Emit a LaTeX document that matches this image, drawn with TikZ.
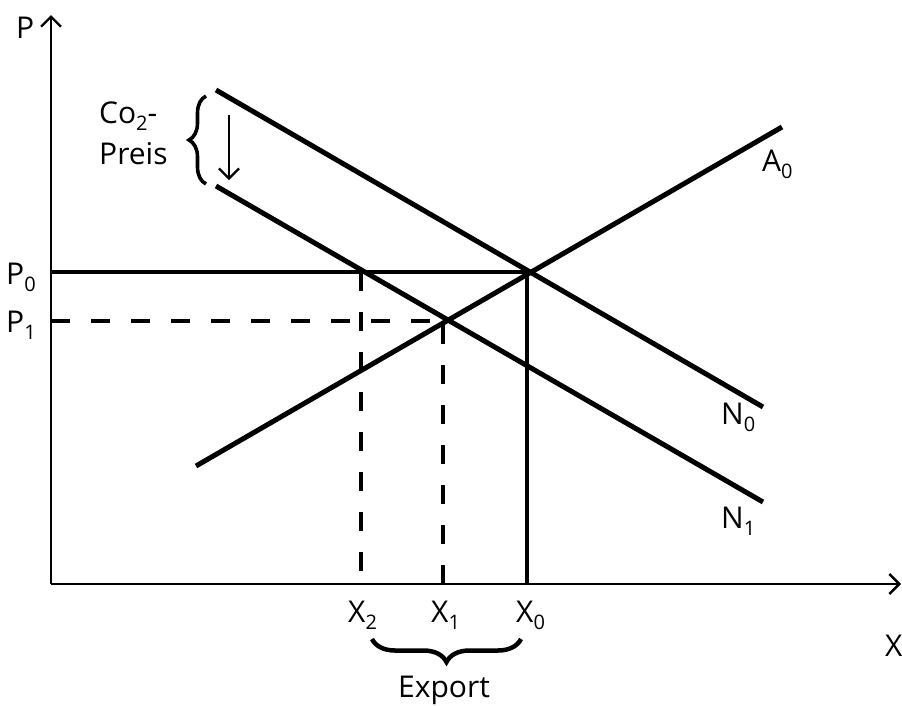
\documentclass[tikz,border=0pt]{standalone}
\usepackage{fontspec}
\setmainfont{Open Sans}
\usetikzlibrary{arrows.meta,decorations.pathreplacing}
\newcommand\mysub[1]{\raisebox{-0.24em}{\fontsize{20}{20}\selectfont #1}}
\tikzset{
  axis/.style={line width=2.6pt,-{Straight Barb[length=10pt,width=20pt,line width=2.4pt]}},
  curve/.style={line width=5pt},
  guide/.style={line width=4.5pt},
  dguide/.style={line width=4.5pt,dash pattern=on 19pt off 21pt},
  lbl/.style={font=\fontsize{30}{36}\selectfont,inner sep=0pt,anchor=base west},
  bracestyle/.style={line width=4.5pt,decorate,decoration={brace,amplitude=23pt,aspect=0.5}}
}
\begin{document}
\begin{tikzpicture}[x=1pt,y=-1pt]
\useasboundingbox (0,0) rectangle (902,705);
% axes
\coordinate (O) at (51,584);
\coordinate (Ptop) at (51,15);
\coordinate (Xend) at (901,584);
\draw[axis] (O) -- (Ptop);
\draw[axis] (O) -- (Xend);
\node[lbl] (Plab) at (16,38) {P};
\node[lbl] (Xlab) at (885,656) {X};
% curves
\coordinate (N0a) at (216,90);
\coordinate (N0b) at (763,407);
\coordinate (N1a) at (216,186);
\coordinate (N1b) at (763,502);
\coordinate (A0a) at (196,466);
\coordinate (A0b) at (782,127);
\draw[curve] (N0a) -- (N0b);
\draw[curve] (N1a) -- (N1b);
\draw[curve] (A0a) -- (A0b);
\node[lbl] (A0lab) at (762,171) {A\mysub{0}};
\node[lbl] (N0lab) at (721,424) {N\mysub{0}};
\node[lbl] (N1lab) at (721,528) {N\mysub{1}};
% equilibrium lines
\coordinate (E0) at (527,272);
\coordinate (E1) at (443,321);
\coordinate (P0ax) at (51,272);
\coordinate (P1ax) at (51,321);
\coordinate (X0ax) at (527,584);
\coordinate (X1ax) at (443,584);
\coordinate (X2top) at (361,272);
\coordinate (X2ax) at (361,584);
\draw[guide] (P0ax) -- (E0);
\draw[guide] (E0) -- (X0ax);
\draw[dguide] (P1ax) -- (E1);
\draw[dguide] (X1ax) -- (E1);
\draw[dguide] (X2top) -- (X2ax);
\node[lbl] (P0lab) at (6,284) {P\mysub{0}};
\node[lbl] (P1lab) at (6,332) {P\mysub{1}};
\node[lbl] (X2lab) at (348,622) {X\mysub{2}};
\node[lbl] (X1lab) at (431,622) {X\mysub{1}};
\node[lbl] (X0lab) at (516,622) {X\mysub{0}};
% export brace
\coordinate (Bl) at (372,639);
\coordinate (Br) at (521,639);
\draw[bracestyle] (Br) -- (Bl);
\node[lbl] (Export) at (398,697) {Export};
% CO2 price
\coordinate (Ct) at (206,96);
\coordinate (Cb) at (206,184);
\draw[bracestyle,line width=3.6pt,decoration={amplitude=17pt}] (Cb) -- (Ct);
\coordinate (Aa) at (229,115);
\coordinate (Ab) at (229,180);
\draw[line width=2.4pt,-{Straight Barb[length=10pt,width=20pt,line width=2.2pt]}] (Aa) -- (Ab);
\node[lbl] (Co2) at (99,123) {Co\mysub{2}-};
\node[lbl] (Preis) at (99,164) {Preis};
\end{tikzpicture}
\end{document}
